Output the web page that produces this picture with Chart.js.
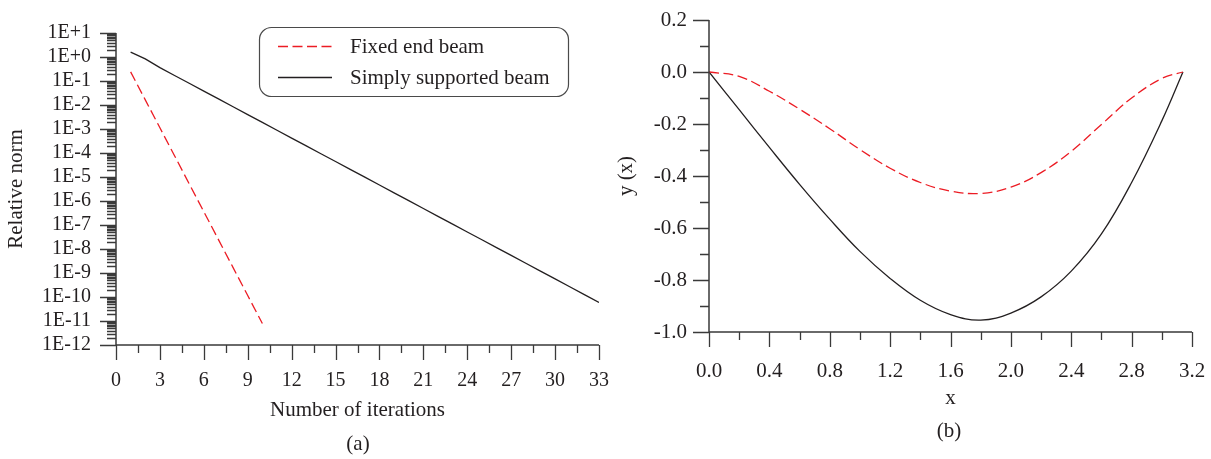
<!DOCTYPE html>
<html>
<head>
<meta charset="utf-8">
<script src="https://cdn.jsdelivr.net/npm/chart.js@4.4.1/dist/chart.umd.min.js"></script>
<style>
  body { margin: 0; background: #fff; width: 1211px; height: 459px; overflow: hidden; position: relative; }
  #graficoA { position: absolute; left: 0; top: 0; }
  #graficoB { position: absolute; left: 600px; top: 0; }
  .legenda-fig { position: absolute; font-family: "Liberation Serif", serif; font-size: 21px; line-height: 21px; color: #231f20; transform: translateX(-50%); }
</style>
</head>
<body>
<canvas id="graficoA" width="620" height="459"></canvas>
<canvas id="graficoB" width="611" height="459"></canvas>
<div class="legenda-fig" style="left:358px; top:433px;">(a)</div>
<div class="legenda-fig" style="left:949px; top:420px;">(b)</div>
<script>
// ---- dados (a): norma relativa por iteracao ----
var iteracoesFixa = [1, 2, 3, 4, 5, 6, 7, 8, 9, 10];
var normaFixa = [2.4e-1, 1.64e-2, 1.12e-3, 7.7e-5, 5.2e-6, 3.6e-7, 2.45e-8, 1.68e-9, 1.15e-10, 7.9e-12];

var iteracoesSimples = [1, 2, 3, 4, 5, 6, 7, 8, 9, 10, 11, 12, 13, 14, 15, 16, 17, 18, 19, 20,
  21, 22, 23, 24, 25, 26, 27, 28, 29, 30, 31, 32, 33];
var normaSimples = [1.6, 0.83, 0.36, 0.170, 0.0802, 0.0378, 0.0179, 8.43e-3, 3.98e-3, 1.88e-3,
  8.87e-4, 4.19e-4, 1.98e-4, 9.33e-5, 4.41e-5, 2.08e-5, 9.82e-6, 4.63e-6, 2.19e-6, 1.03e-6,
  4.88e-7, 2.30e-7, 1.09e-7, 5.13e-8, 2.42e-8, 1.14e-8, 5.40e-9, 2.55e-9, 1.20e-9, 5.68e-10,
  2.68e-10, 1.26e-10, 5.97e-11];

var decadas = [1e-12, 1e-11, 1e-10, 1e-9, 1e-8, 1e-7, 1e-6, 1e-5, 1e-4, 1e-3, 1e-2, 1e-1, 1e0, 1e1];
var rotulosLog = ['1E-12', '1E-11', '1E-10', '1E-9', '1E-8', '1E-7', '1E-6', '1E-5', '1E-4', '1E-3',
  '1E-2', '1E-1', '1E+0', '1E+1'];
var ticksXa = [0, 3, 6, 9, 12, 15, 18, 21, 24, 27, 30, 33];

// ---- dados (b): deflexao y(x) ----
var posX = [0, 0.2, 0.4, 0.6, 0.8, 1.0, 1.2, 1.4, 1.6, 1.8, 2.0, 2.2, 2.4, 2.6, 2.8, 3.0, 3.14];
var yFixa = [0, -0.017, -0.074, -0.143, -0.218, -0.298, -0.370, -0.425, -0.458, -0.467, -0.443,
  -0.387, -0.305, -0.202, -0.100, -0.025, 0];
var ySimples = [0, -0.145, -0.290, -0.432, -0.566, -0.690, -0.794, -0.878, -0.933, -0.954, -0.927,
  -0.865, -0.766, -0.623, -0.425, -0.188, 0];

var ticksXb = [0, 0.4, 0.8, 1.2, 1.6, 2.0, 2.4, 2.8, 3.2];
var rotulosXb = ['0.0', '0.4', '0.8', '1.2', '1.6', '2.0', '2.4', '2.8', '3.2'];
var ticksYb = [-1.0, -0.8, -0.6, -0.4, -0.2, 0, 0.2];
var rotulosYb = ['-1.0', '-0.8', '-0.6', '-0.4', '-0.2', '0.0', '0.2'];

var FONTE = '"Liberation Serif", "Times New Roman", serif';
var COR_TEXTO = '#231f20';
var COR_EIXO = '#3a3a3a';
var VERMELHO = '#ec1c24';
var PRETO = '#231f20';
var TRACO = [10, 4.5];

function meios(lista) {
  var r = [];
  for (var i = 0; i < lista.length - 1; i++) r.push((lista[i] + lista[i + 1]) / 2);
  return r;
}

function menoresLog(lista) {
  var r = [];
  for (var i = 0; i < lista.length - 1; i++) {
    for (var k = 2; k <= 9; k++) r.push(k * lista[i]);
  }
  return r;
}

function pontos(xs, ys) {
  return xs.map(function (x, i) { return { x: x, y: ys[i] }; });
}

// tamanho fixo do eixo, sem folga extra dos rotulos
function fixarEixo(prop, valor) {
  return function (s) {
    s[prop] = valor;
    s.paddingLeft = 0; s.paddingRight = 0; s.paddingTop = 0; s.paddingBottom = 0;
  };
}

// eixos com marcas maiores e menores
var pluginEixos = {
  id: 'eixos',
  afterDatasetsDraw: function (chart, args, opts) {
    var ctx = chart.ctx, a = chart.chartArea;
    var sx = chart.scales.x, sy = chart.scales.y;
    ctx.save();
    ctx.strokeStyle = COR_EIXO;
    ctx.lineWidth = 1.5;
    ctx.beginPath();
    ctx.moveTo(a.left, a.top);
    ctx.lineTo(a.left, a.bottom);
    ctx.lineTo(a.right, a.bottom);
    ctx.stroke();

    ctx.lineWidth = 1.3;
    ctx.beginPath();
    sy.ticks.forEach(function (t) {
      var p = Math.round(sy.getPixelForValue(t.value)) + 0.5;
      ctx.moveTo(a.left - 16, p); ctx.lineTo(a.left, p);
    });
    opts.menoresY.forEach(function (v) {
      var p = Math.round(sy.getPixelForValue(v)) + 0.5;
      ctx.moveTo(a.left - 9, p); ctx.lineTo(a.left, p);
    });
    sx.ticks.forEach(function (t) {
      var p = Math.round(sx.getPixelForValue(t.value)) + 0.5;
      ctx.moveTo(p, a.bottom); ctx.lineTo(p, a.bottom + 15);
    });
    opts.menoresX.forEach(function (v) {
      var p = Math.round(sx.getPixelForValue(v)) + 0.5;
      ctx.moveTo(p, a.bottom); ctx.lineTo(p, a.bottom + 8);
    });
    ctx.stroke();
    ctx.restore();
  }
};

// legenda com caixa arredondada
var pluginLegenda = {
  id: 'legendaCaixa',
  afterDraw: function (chart, args, opts) {
    if (!opts.mostrar) return;
    var ctx = chart.ctx;
    var x0 = 259.5, y0 = 27.5, w = 309, h = 69, r = 12;
    ctx.save();
    ctx.strokeStyle = '#4a4a4a';
    ctx.lineWidth = 1.2;
    ctx.beginPath();
    ctx.moveTo(x0 + r, y0);
    ctx.lineTo(x0 + w - r, y0);
    ctx.arcTo(x0 + w, y0, x0 + w, y0 + r, r);
    ctx.lineTo(x0 + w, y0 + h - r);
    ctx.arcTo(x0 + w, y0 + h, x0 + w - r, y0 + h, r);
    ctx.lineTo(x0 + r, y0 + h);
    ctx.arcTo(x0, y0 + h, x0, y0 + h - r, r);
    ctx.lineTo(x0, y0 + r);
    ctx.arcTo(x0, y0, x0 + r, y0, r);
    ctx.closePath();
    ctx.stroke();

    var linhasY = [46.5, 77.5];
    var baseTexto = [52.5, 83.5];
    chart.data.datasets.forEach(function (ds, i) {
      ctx.beginPath();
      ctx.strokeStyle = ds.borderColor;
      ctx.lineWidth = ds.borderWidth;
      ctx.setLineDash(ds.borderDash || []);
      ctx.moveTo(278, linhasY[i]);
      ctx.lineTo(332, linhasY[i]);
      ctx.stroke();
      ctx.setLineDash([]);
      ctx.fillStyle = COR_TEXTO;
      ctx.font = '21px ' + FONTE;
      ctx.textBaseline = 'alphabetic';
      ctx.textAlign = 'left';
      ctx.fillText(ds.label, 350, baseTexto[i]);
    });
    ctx.restore();
  }
};

Chart.register(pluginEixos, pluginLegenda);

// ---- grafico (a) ----
new Chart(document.getElementById('graficoA'), {
  type: 'line',
  data: {
    datasets: [{
      label: 'Fixed end beam',
      data: pontos(iteracoesFixa, normaFixa),
      borderColor: VERMELHO,
      borderWidth: 1.3,
      borderDash: TRACO,
      pointRadius: 0,
      tension: 0,
      fill: false
    }, {
      label: 'Simply supported beam',
      data: pontos(iteracoesSimples, normaSimples),
      borderColor: PRETO,
      borderWidth: 1.3,
      pointRadius: 0,
      tension: 0,
      fill: false
    }]
  },
  options: {
    responsive: false,
    animation: false,
    devicePixelRatio: 1,
    layout: { padding: { top: 33, right: 21, left: 0, bottom: 0 } },
    plugins: {
      legend: { display: false },
      tooltip: { enabled: false },
      eixos: { menoresY: menoresLog(decadas), menoresX: meios(ticksXa) },
      legendaCaixa: { mostrar: true }
    },
    scales: {
      x: {
        type: 'linear', min: 0, max: 33,
        afterBuildTicks: function (s) { s.ticks = ticksXa.map(function (v) { return { value: v }; }); },
        afterFit: fixarEixo('height', 114),
        grid: { display: false, drawTicks: false },
        border: { display: false },
        ticks: { autoSkip: false, maxRotation: 0, padding: 24, color: COR_TEXTO, font: { family: FONTE, size: 20 } },
        title: { display: true, text: 'Number of iterations', color: COR_TEXTO, font: { family: FONTE, size: 21 }, padding: { bottom: 36 } }
      },
      y: {
        type: 'logarithmic', min: 1e-12, max: 10,
        afterBuildTicks: function (s) { s.ticks = decadas.map(function (v) { return { value: v }; }); },
        afterFit: fixarEixo('width', 116),
        grid: { display: false, drawTicks: false },
        border: { display: false },
        ticks: {
          autoSkip: false, padding: 25, color: COR_TEXTO, font: { family: FONTE, size: 20 },
          callback: function (v, i) { return rotulosLog[i]; }
        },
        title: { display: true, text: 'Relative norm', color: COR_TEXTO, font: { family: FONTE, size: 21 }, padding: { top: 4 } }
      }
    }
  }
});

// ---- grafico (b) ----
new Chart(document.getElementById('graficoB'), {
  type: 'line',
  data: {
    datasets: [{
      label: 'Fixed end beam',
      data: pontos(posX, yFixa),
      borderColor: VERMELHO,
      borderWidth: 1.3,
      borderDash: TRACO,
      pointRadius: 0,
      tension: 0.4,
      fill: false
    }, {
      label: 'Simply supported beam',
      data: pontos(posX, ySimples),
      borderColor: PRETO,
      borderWidth: 1.3,
      pointRadius: 0,
      tension: 0.4,
      fill: false
    }]
  },
  options: {
    responsive: false,
    animation: false,
    devicePixelRatio: 1,
    layout: { padding: { top: 20, right: 19, left: 0, bottom: 0 } },
    plugins: {
      legend: { display: false },
      tooltip: { enabled: false },
      eixos: { menoresY: meios(ticksYb), menoresX: meios(ticksXb) },
      legendaCaixa: { mostrar: false }
    },
    scales: {
      x: {
        type: 'linear', min: 0, max: 3.2,
        afterBuildTicks: function (s) { s.ticks = ticksXb.map(function (v) { return { value: v }; }); },
        afterFit: fixarEixo('height', 127),
        grid: { display: false, drawTicks: false },
        border: { display: false },
        ticks: {
          autoSkip: false, maxRotation: 0, padding: 27, color: COR_TEXTO, font: { family: FONTE, size: 21 },
          callback: function (v, i) { return rotulosXb[i]; }
        },
        title: { display: true, text: 'x', color: COR_TEXTO, font: { family: FONTE, size: 21 }, padding: { bottom: 48 } }
      },
      y: {
        type: 'linear', min: -1.0, max: 0.2,
        afterBuildTicks: function (s) { s.ticks = ticksYb.map(function (v) { return { value: v }; }); },
        afterFit: fixarEixo('width', 109),
        grid: { display: false, drawTicks: false },
        border: { display: false },
        ticks: {
          autoSkip: false, padding: 22, color: COR_TEXTO, font: { family: FONTE, size: 21 },
          callback: function (v, i) { return rotulosYb[i]; }
        },
        title: { display: true, text: 'y (x)', color: COR_TEXTO, font: { family: FONTE, size: 21 }, padding: { top: 14 } }
      }
    }
  }
});
</script>
</body>
</html>
